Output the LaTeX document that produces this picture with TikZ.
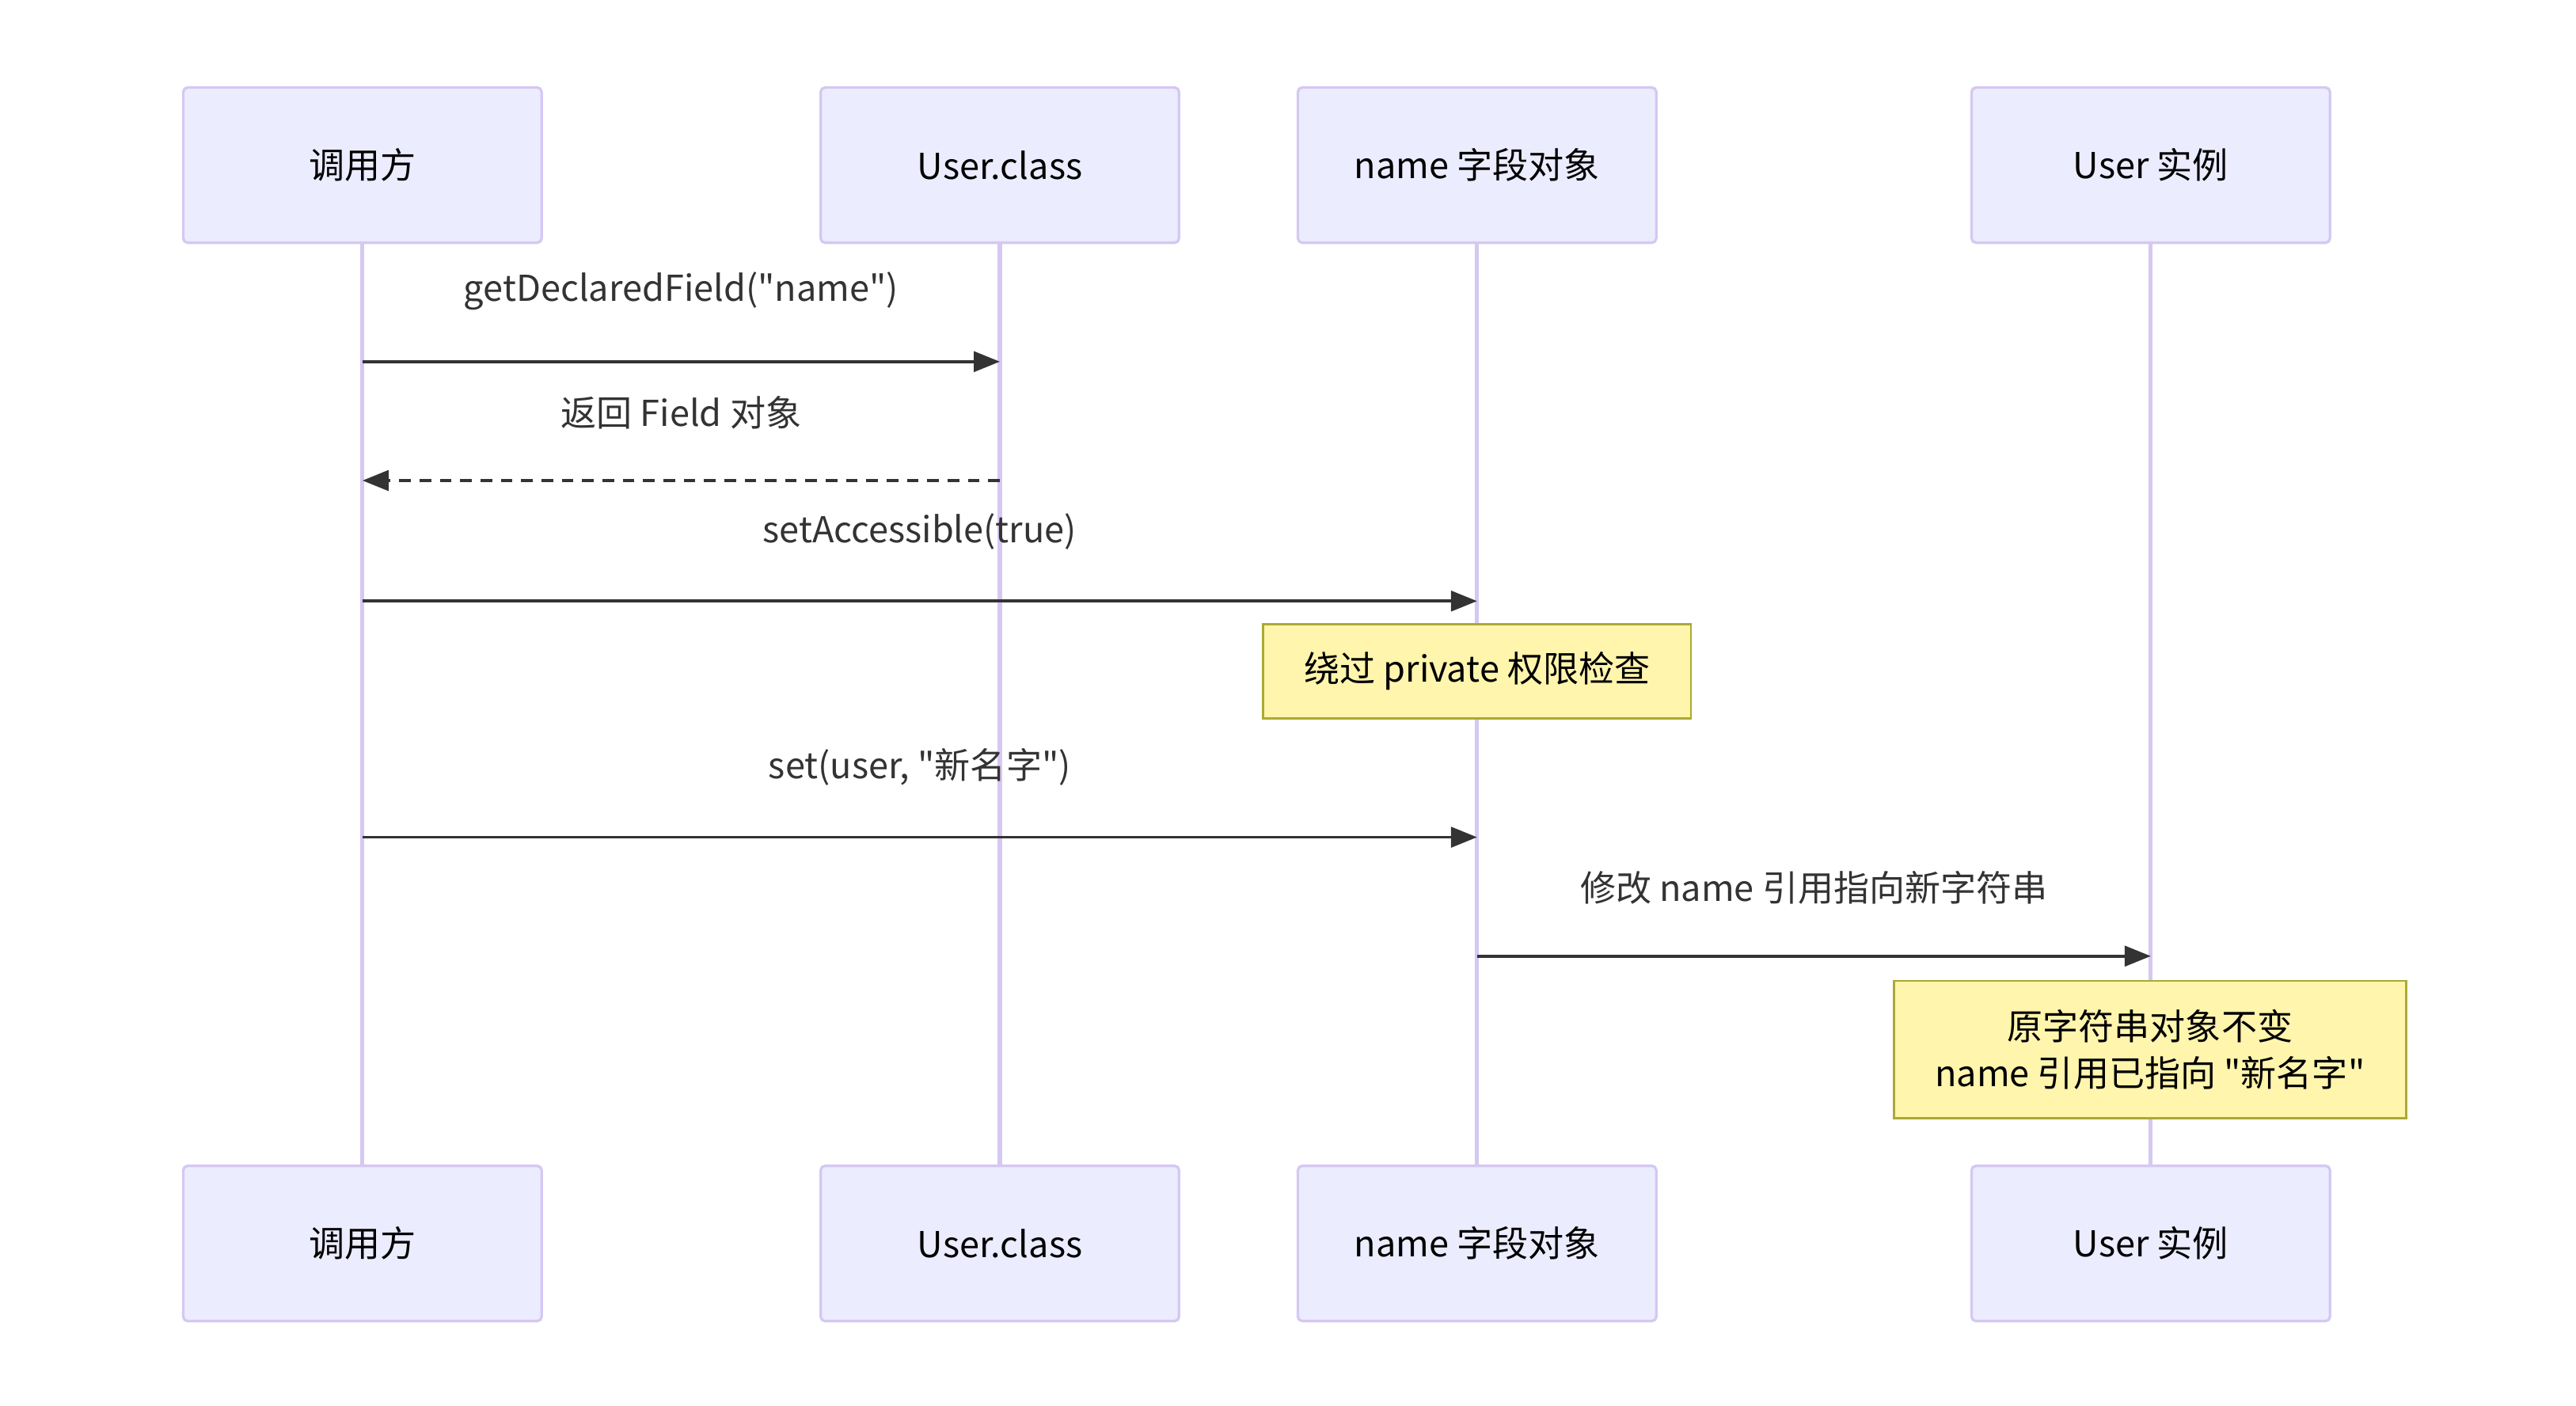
\documentclass[tikz,border=0pt]{standalone}
\usepackage{fontspec}
\setmainfont{Noto Sans}
\newfontfamily\cjk{Noto Sans CJK SC}
\usetikzlibrary{arrows.meta}
\definecolor{actfill}{HTML}{ECECFF}
\definecolor{actline}{HTML}{D5C8F2}
\definecolor{notefill}{HTML}{FFF5AD}
\definecolor{noteline}{HTML}{AAAA33}
\definecolor{msg}{HTML}{333333}
\begin{document}
\begin{tikzpicture}[x=0.02cm,y=-0.02cm,
  every node/.style={font=\cjk\fontsize{12.3}{16}\selectfont, text=black},
  actor/.style={draw=actline, fill=actfill, line width=0.9pt, rounded corners=1.5pt, minimum width=217*0.02cm, minimum height=94*0.02cm, inner sep=0},
  life/.style={draw=actline, line width=1.4pt},
  note/.style={draw=noteline, fill=notefill, line width=0.8pt, inner sep=0, align=center},
  m/.style={draw=msg, line width=1pt, -{Triangle[length=9pt,width=7pt]}},
  lbl/.style={text=msg}]
\useasboundingbox (0,0) rectangle (1560,851);
\foreach \n/\x/\t in {a/219.5/调用方, b/605.5/User.class, c/894.5/name 字段对象, d/1302.5/User 实例}{
  \draw[life] (\x,147) -- (\x,706);
  \node[actor] (\n top) at (\x,100) {\t};
  \node[actor] (\n bot) at (\x,753) {\t};
}
\coordinate (a1) at (219.5,219); \coordinate (b1) at (605.5,219);
\draw[m] (a1) -- (b1) node[lbl,midway,above=14pt] {getDeclaredField("name")};
\coordinate (a2) at (219.5,291); \coordinate (b2) at (605.5,291);
\draw[m,dashed,dash pattern=on 4pt off 3pt] (b2) -- (a2) node[lbl,midway,above=14pt] {返回 Field 对象};
\coordinate (a3) at (219.5,364); \coordinate (c3) at (894.5,364);
\draw[m] (a3) -- (c3) node[lbl,midway,above=14pt] {setAccessible(true)};
\node[note, minimum width=259*0.02cm, minimum height=57*0.02cm] (n1) at (894.5,406.5) {绕过 private 权限检查};
\coordinate (a4) at (219.5,507); \coordinate (c4) at (894.5,507);
\draw[m] (a4) -- (c4) node[lbl,midway,above=14pt] {set(user, "新名字")};
\coordinate (c5) at (894.5,579); \coordinate (d5) at (1302.5,579);
\draw[m] (c5) -- (d5) node[lbl,midway,above=14pt] {修改 name 引用指向新字符串};
\node[note, minimum width=310*0.02cm, minimum height=83*0.02cm] (n2) at (1302,635.5) {原字符串对象不变\\name 引用已指向 "新名字"};
\end{tikzpicture}
\end{document}
